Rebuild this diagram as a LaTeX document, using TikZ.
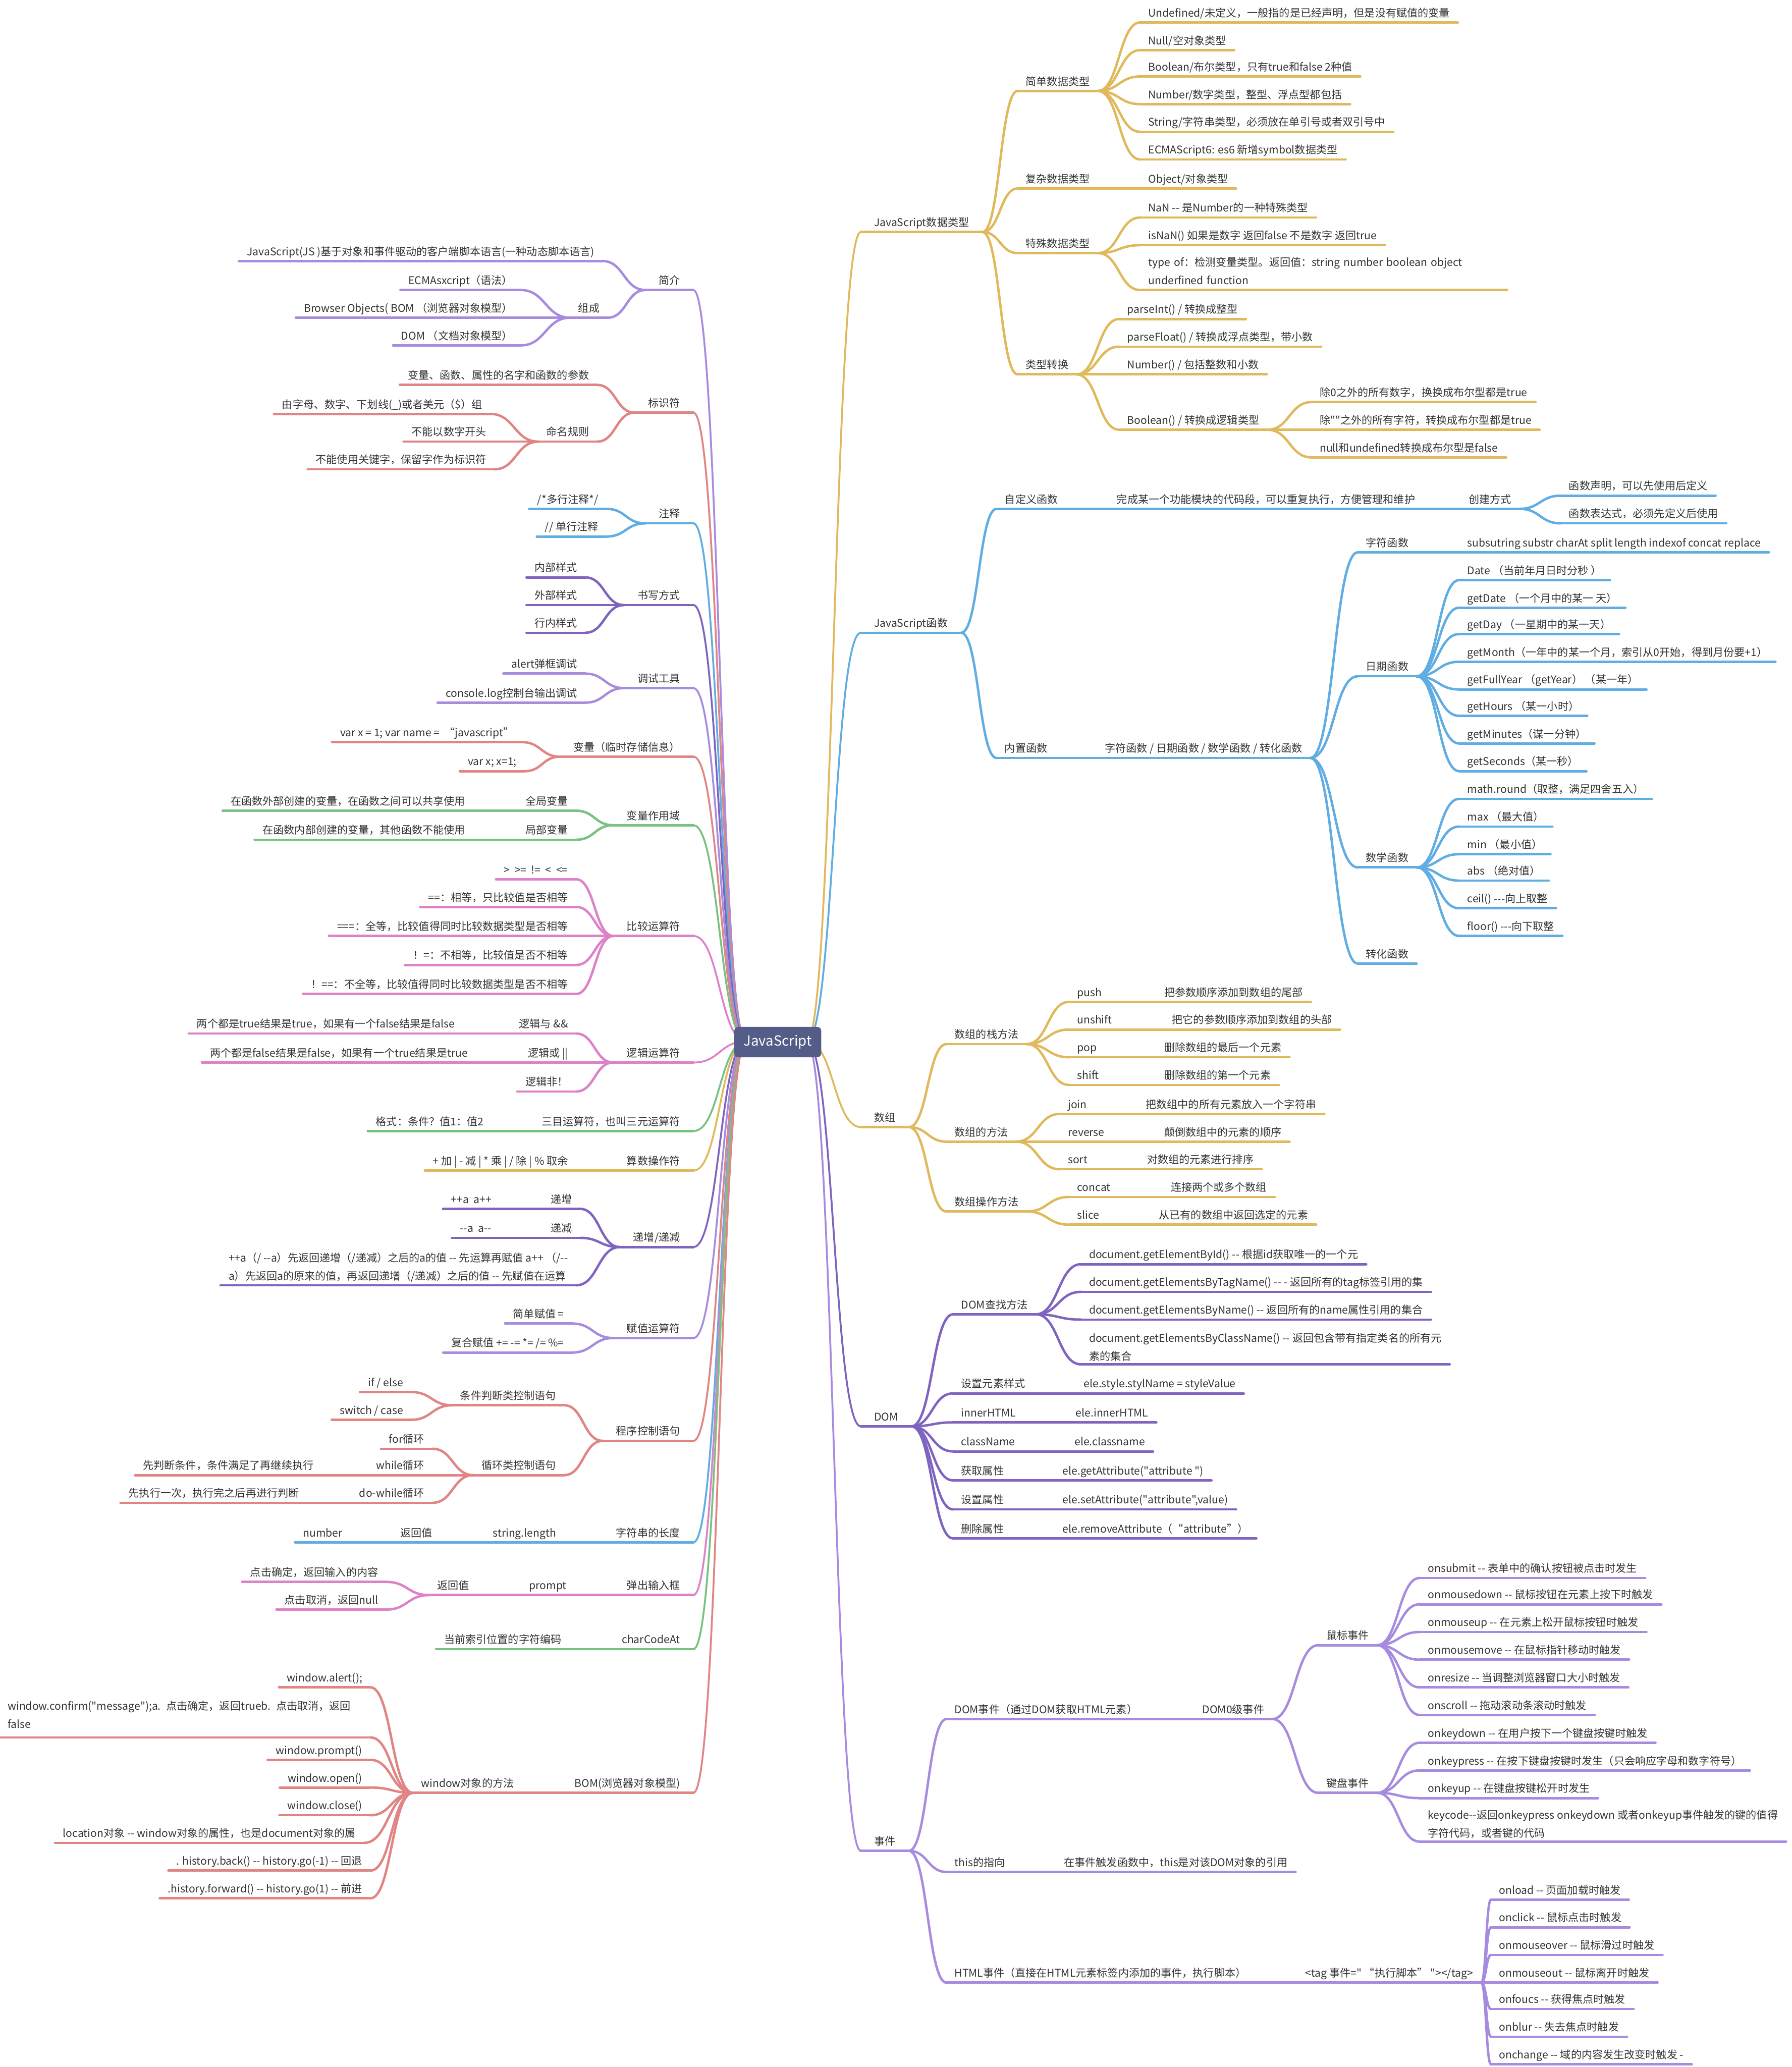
\documentclass[tikz,border=0pt]{standalone}
\usepackage{fontspec}
\setmainfont[Ligatures=TeXOff]{Noto Sans CJK SC}
\usetikzlibrary{calc}
\definecolor{yel}{HTML}{E0B95C}
\definecolor{blu}{HTML}{5FADE2}
\definecolor{dpu}{HTML}{7F64BF}
\definecolor{lpu}{HTML}{A68BDF}
\definecolor{sal}{HTML}{E08484}
\definecolor{grn}{HTML}{78C281}
\definecolor{pnk}{HTML}{DD82C8}
\definecolor{rootc}{HTML}{545D87}
\definecolor{txtc}{HTML}{333333}
\newcommand\tfs{\fontsize{11.5pt}{19.5pt}\selectfont}
\newcommand\rfs{\fontsize{15pt}{18pt}\selectfont}
\newcommand\conn[3]{\draw[#1] let \p1=#2, \p2=#3 in (\p1) .. controls ({0.5*\x1+0.5*\x2},\y1) and ({0.5*\x1+0.5*\x2},\y2) .. (\p2);}
\newcommand\conR[3]{\conn{cn=#1}{(#2.south east)}{(#3.south west)}}
\newcommand\conL[3]{\conn{cn=#1}{(#2.south west)}{(#3.south east)}}
\newcommand\rootR[2]{\conn{rcn=#1}{(rR)}{(#2.south west)}}
\newcommand\rootL[2]{\conn{rcn=#1}{(rL)}{(#2.south east)}}
\tikzset{
  tx/.style={font=\tfs, text=txtc, inner xsep=0.3cm, inner ysep=0.12cm, text height=10pt, text depth=2.5pt},
  nr/.style={tx, anchor=south west},
  nl/.style={tx, anchor=south east},
  mp/.style={inner xsep=0.5cm},
  two/.style={text height=, text depth=, align=left},
  ul/.style={append after command={(\tikzlastnode.south west) edge[draw=#1,line width=2.6pt,line cap=round] (\tikzlastnode.south east)}},
  cn/.style={draw=#1, line width=2.6pt, line cap=round},
  rcn/.style={draw=#1, line width=2pt, line cap=round},
}
\begin{document}
\begin{tikzpicture}[x=0.05cm,y=-0.05cm]
\fill[white] (0,0) rectangle (1359,1568);
\useasboundingbox (0,0) rectangle (1359,1568);
\coordinate (rL) at (566,790);
\coordinate (rR) at (612,790);

% ================= RIGHT: data types
\node[nr,mp,ul=yel] (js) at (653,176) {JavaScript数据类型};
\node[nr,ul=yel] (sj) at (772,69) {简单数据类型};
\node[nr,ul=yel] (sj1) at (865,17) {Undefined/未定义，一般指的是已经声明，但是没有赋值的变量};
\node[nr,ul=yel] (sj2) at (865,38) {Null/空对象类型};
\node[nr,ul=yel] (sj3) at (865,58) {Boolean/布尔类型，只有true和false 2种值};
\node[nr,ul=yel] (sj4) at (865,79) {Number/数字类型，整型、浮点型都包括};
\node[nr,ul=yel] (sj5) at (865,100) {String/字符串类型，必须放在单引号或者双引号中};
\node[nr,ul=yel] (sj6) at (865,121) {ECMAScript6: es6 新增symbol数据类型};
\node[nr,ul=yel] (fz) at (772,143) {复杂数据类型};
\node[nr,ul=yel] (fz1) at (865,143) {Object/对象类型};
\node[nr,ul=yel] (ts) at (772,192) {特殊数据类型};
\node[nr,ul=yel] (ts1) at (865,165) {NaN -- 是Number的一种特殊类型};
\node[nr,ul=yel] (ts2) at (865,186) {isNaN() 如果是数字 返回false 不是数字 返回true};
\node[nr,two,text width=13.3cm,inner ysep=0.2cm,ul=yel] (ts3) at (865,220) {type of：检测变量类型。返回值：string number boolean object\\underfined function};
\node[nr,ul=yel] (lx) at (772,284) {类型转换};
\node[nr,ul=yel] (lx1) at (849,242) {parseInt() / 转换成整型};
\node[nr,ul=yel] (lx2) at (849,263) {parseFloat() / 转换成浮点类型，带小数};
\node[nr,ul=yel] (lx3) at (849,284) {Number() / 包括整数和小数};
\node[nr,ul=yel] (lx4) at (849,326) {Boolean() / 转换成逻辑类型};
\node[nr,ul=yel] (lx41) at (995,305) {除0之外的所有数字，换换成布尔型都是true};
\node[nr,ul=yel] (lx42) at (995,326) {除""之外的所有字符，转换成布尔型都是true};
\node[nr,ul=yel] (lx43) at (995,347) {null和undefined转换成布尔型是false};

% ================= RIGHT: functions
\node[nr,mp,ul=blu] (fn) at (653,480) {JavaScript函数};
\node[nr,ul=blu] (zd) at (756,386) {自定义函数};
\node[nr,ul=blu] (zd1) at (841,386) {完成某一个功能模块的代码段，可以重复执行，方便管理和维护};
\node[nr,ul=blu] (zd2) at (1108,386) {创建方式};
\node[nr,ul=blu] (zd21) at (1184,376) {函数声明，可以先使用后定义};
\node[nr,ul=blu] (zd22) at (1184,397) {函数表达式，必须先定义后使用};
\node[nr,ul=blu] (nz) at (756,575) {内置函数};
\node[nr,ul=blu] (nz1) at (832,575) {字符函数 / 日期函数 / 数学函数 / 转化函数};
\node[nr,ul=blu] (zf) at (1030,419) {字符函数};
\node[nr,ul=blu] (zf1) at (1107,419) {subsutring substr charAt split length indexof concat replace};
\node[nr,ul=blu] (rq) at (1030,513) {日期函数};
\node[nr,ul=blu] (rq1) at (1107,440) {Date （当前年月日时分秒 ）};
\node[nr,ul=blu] (rq2) at (1107,461) {getDate （一个月中的某一 天）};
\node[nr,ul=blu] (rq3) at (1107,481) {getDay （一星期中的某一天）};
\node[nr,ul=blu] (rq4) at (1107,502) {getMonth（一年中的某一个月，索引从0开始，得到月份要+1）};
\node[nr,ul=blu] (rq5) at (1107,523) {getFullYear （getYear） （某一年）};
\node[nr,ul=blu] (rq6) at (1107,543) {getHours （某一小时）};
\node[nr,ul=blu] (rq7) at (1107,564) {getMinutes（谋一分钟）};
\node[nr,ul=blu] (rq8) at (1107,585) {getSeconds（某一秒）};
\node[nr,ul=blu] (sx) at (1030,658) {数学函数};
\node[nr,ul=blu] (sx1) at (1107,606) {math.round（取整，满足四舍五入）};
\node[nr,ul=blu] (sx2) at (1107,627) {max （最大值）};
\node[nr,ul=blu] (sx3) at (1107,648) {min （最小值）};
\node[nr,ul=blu] (sx4) at (1107,668) {abs （绝对值）};
\node[nr,ul=blu] (sx5) at (1107,689) {ceil() ---向上取整};
\node[nr,ul=blu] (sx6) at (1107,710) {floor() ---向下取整};
\node[nr,ul=blu] (zh) at (1030,731) {转化函数};

% ================= RIGHT: arrays
\node[nr,mp,ul=yel] (sz) at (653,855) {数组};
\node[nr,ul=yel] (sz1) at (718,792) {数组的栈方法};
\node[nr,ul=yel] (push) at (811,760) {push};
\node[nr,ul=yel] (pushd) at (877,760) {把参数顺序添加到数组的尾部};
\node[nr,ul=yel] (unsh) at (811,781) {unshift};
\node[nr,ul=yel] (unshd) at (883,781) {把它的参数顺序添加到数组的头部};
\node[nr,ul=yel] (pop) at (811,802) {pop};
\node[nr,ul=yel] (popd) at (877,802) {删除数组的最后一个元素};
\node[nr,ul=yel] (shf) at (811,823) {shift};
\node[nr,ul=yel] (shfd) at (877,823) {删除数组的第一个元素};
\node[nr,ul=yel] (sz2) at (718,866) {数组的方法};
\node[nr,ul=yel] (join) at (804,845) {join};
\node[nr,ul=yel] (joind) at (863,845) {把数组中的所有元素放入一个字符串};
\node[nr,ul=yel] (rev) at (804,866) {reverse};
\node[nr,ul=yel] (revd) at (877,866) {颠倒数组中的元素的顺序};
\node[nr,ul=yel] (sort) at (804,887) {sort};
\node[nr,ul=yel] (sortd) at (864,887) {对数组的元素进行排序};
\node[nr,ul=yel] (sz3) at (718,919) {数组操作方法};
\node[nr,ul=yel] (conc) at (811,908) {concat};
\node[nr,ul=yel] (concd) at (882,908) {连接两个或多个数组};
\node[nr,ul=yel] (slic) at (811,929) {slice};
\node[nr,ul=yel] (slicd) at (873,929) {从已有的数组中返回选定的元素};

% ================= RIGHT: DOM
\node[nr,mp,ul=dpu] (dom) at (653,1082) {DOM};
\node[nr,ul=dpu] (dc) at (723,997) {DOM查找方法};
\node[nr,ul=dpu] (dc1) at (820,959) {document.getElementById() -- 根据id获取唯一的一个元};
\node[nr,ul=dpu] (dc2) at (820,980) {document.getElementsByTagName() -- - 返回所有的tag标签引用的集};
\node[nr,ul=dpu] (dc3) at (820,1001) {document.getElementsByName() -- 返回所有的name属性引用的集合};
\node[nr,two,ul=dpu] (dc4) at (820,1035) {document.getElementsByClassName() -- 返回包含带有指定类名的所有元\\素的集合};
\node[nr,ul=dpu] (ys) at (723,1057) {设置元素样式};
\node[nr,ul=dpu] (ysd) at (816,1057) {ele.style.stylName = styleValue};
\node[nr,ul=dpu] (ih) at (723,1079) {innerHTML};
\node[nr,ul=dpu] (ihd) at (810,1079) {ele.innerHTML};
\node[nr,ul=dpu] (clsn) at (723,1101) {className};
\node[nr,ul=dpu] (clsnd) at (809,1101) {ele.classname};
\node[nr,ul=dpu] (hq) at (723,1123) {获取属性};
\node[nr,ul=dpu] (hqd) at (800,1123) {ele.getAttribute("attribute ")};
\node[nr,ul=dpu] (st) at (723,1145) {设置属性};
\node[nr,ul=dpu] (std) at (800,1145) {ele.setAttribute("attribute",value)};
\node[nr,ul=dpu] (sc) at (723,1167) {删除属性};
\node[nr,ul=dpu] (scd) at (800,1167) {ele.removeAttribute（“attribute”）};

% ================= RIGHT: events
\node[nr,mp,ul=lpu] (ev) at (653,1404) {事件};
\node[nr,ul=lpu] (ev1) at (718,1304) {DOM事件（通过DOM获取HTML元素）};
\node[nr,ul=lpu] (ev1a) at (906,1304) {DOM0级事件};
\node[nr,ul=lpu] (ms) at (1000,1248) {鼠标事件};
\node[nr,ul=lpu] (ms1) at (1077,1197) {onsubmit -- 表单中的确认按钮被点击时发生};
\node[nr,ul=lpu] (ms2) at (1077,1217) {onmousedown -- 鼠标按钮在元素上按下时触发};
\node[nr,ul=lpu] (ms3) at (1077,1238) {onmouseup -- 在元素上松开鼠标按钮时触发};
\node[nr,ul=lpu] (ms4) at (1077,1259) {onmousemove -- 在鼠标指针移动时触发};
\node[nr,ul=lpu] (ms5) at (1077,1280) {onresize -- 当调整浏览器窗口大小时触发};
\node[nr,ul=lpu] (ms6) at (1077,1301) {onscroll -- 拖动滚动条滚动时触发};
\node[nr,ul=lpu] (kb) at (1000,1360) {键盘事件};
\node[nr,ul=lpu] (kb1) at (1077,1322) {onkeydown -- 在用户按下一个键盘按键时触发};
\node[nr,ul=lpu] (kb2) at (1077,1343) {onkeypress -- 在按下键盘按键时发生（只会响应字母和数字符号）};
\node[nr,ul=lpu] (kb3) at (1077,1364) {onkeyup -- 在键盘按键松开时发生};
\node[nr,two,ul=lpu] (kb4) at (1077,1397) {keycode--返回onkeypress onkeydown 或者onkeyup事件触发的键的值得\\字符代码，或者键的代码};
\node[nr,ul=lpu] (ev2) at (718,1420) {this的指向};
\node[nr,ul=lpu] (ev2a) at (801,1420) {在事件触发函数中，this是对该DOM对象的引用};
\node[nr,ul=lpu] (ev3) at (718,1504) {HTML事件（直接在HTML元素标签内添加的事件，执行脚本）};
\node[nr,ul=lpu] (ev3a) at (984,1504) {<tag 事件=" “执行脚本” "></tag>};
\node[nr,ul=lpu] (hl1) at (1131,1441) {onload -- 页面加载时触发};
\node[nr,ul=lpu] (hl2) at (1131,1462) {onclick -- 鼠标点击时触发};
\node[nr,ul=lpu] (hl3) at (1131,1483) {onmouseover -- 鼠标滑过时触发};
\node[nr,ul=lpu] (hl4) at (1131,1504) {onmouseout -- 鼠标离开时触发};
\node[nr,ul=lpu] (hl5) at (1131,1524) {onfoucs -- 获得焦点时触发};
\node[nr,ul=lpu] (hl6) at (1131,1545) {onblur -- 失去焦点时触发};
\node[nr,ul=lpu] (hl7) at (1131,1566) {onchange -- 域的内容发生改变时触发 -};

% ================= LEFT
\node[nl,mp,ul=lpu] (jj) at (526,220) {简介};
\node[nl,ul=lpu] (jj1) at (457,198) {JavaScript(JS )基于对象和事件驱动的客户端脚本语言(一种动态脚本语言)};
\node[nl,ul=lpu] (jj2) at (461,241) {组成};
\node[nl,ul=lpu] (jj21) at (395,220) {ECMAsxcript（语法）};
\node[nl,ul=lpu] (jj22) at (395,241) {Browser Objects( BOM （浏览器对象模型）};
\node[nl,ul=lpu] (jj23) at (395,262) {DOM （文档对象模型）};

\node[nl,mp,ul=sal] (bs) at (526,313) {标识符};
\node[nl,ul=sal] (bs1) at (453,292) {变量、函数、属性的名字和函数的参数};
\node[nl,ul=sal] (bs2) at (453,335) {命名规则};
\node[nl,ul=sal] (bs21) at (372,314) {由字母、数字、下划线(\_)或者美元（\$）组};
\node[nl,ul=sal] (bs22) at (375,335) {不能以数字开头};
\node[nl,ul=sal] (bs23) at (375,356) {不能使用关键字，保留字作为标识符};

\node[nl,mp,ul=blu] (zs) at (526,397) {注释};
\node[nl,ul=blu] (zs1) at (460,386) {/*多行注释*/};
\node[nl,ul=blu] (zs2) at (460,407) {// 单行注释};

\node[nl,mp,ul=dpu] (sw) at (526,459) {书写方式};
\node[nl,ul=dpu] (sw1) at (444,438) {内部样式};
\node[nl,ul=dpu] (sw2) at (444,459) {外部样式};
\node[nl,ul=dpu] (sw3) at (444,480) {行内样式};

\node[nl,mp,ul=lpu] (dbg) at (526,522) {调试工具};
\node[nl,ul=lpu] (dbg1) at (444,511) {alert弹框调试};
\node[nl,ul=lpu] (dbg2) at (444,533) {console.log控制台输出调试};

\node[nl,mp,ul=sal] (va) at (526,574) {变量（临时存储信息）};
\node[nl,ul=sal] (va1) at (396,563) {var x = 1; var name = \ “javascript”};
\node[nl,ul=sal] (va2) at (398,585) {var x; x=1;};

\node[nl,mp,ul=grn] (scope) at (526,626) {变量作用域};
\node[nl,ul=grn] (sco1) at (437,615) {全局变量};
\node[nl,ul=grn] (sco1a) at (359,615) {在函数外部创建的变量，在函数之间可以共享使用};
\node[nl,ul=grn] (sco2) at (437,637) {局部变量};
\node[nl,ul=grn] (sco2a) at (359,637) {在函数内部创建的变量，其他函数不能使用};

\node[nl,mp,ul=pnk] (cmp) at (526,710) {比较运算符};
\node[nl,ul=pnk] (cmp1) at (437,667) {>\ \ >=\ \ !=\ \ <\ \ <=};
\node[nl,ul=pnk] (cmp2) at (437,688) {==：相等，只比较值是否相等};
\node[nl,ul=pnk] (cmp3) at (437,710) {===：全等，比较值得同时比较数据类型是否相等};
\node[nl,ul=pnk] (cmp4) at (437,732) {！=：不相等，比较值是否不相等};
\node[nl,ul=pnk] (cmp5) at (437,754) {！==：不全等，比较值得同时比较数据类型是否不相等};

\node[nl,mp,ul=pnk] (lg) at (526,806) {逻辑运算符};
\node[nl,ul=pnk] (lg1) at (437,784) {逻辑与 \&\&};
\node[nl,ul=pnk] (lg1a) at (351,784) {两个都是true结果是true，如果有一个false结果是false};
\node[nl,ul=pnk] (lg2) at (437,806) {逻辑或 ||};
\node[nl,ul=pnk] (lg2a) at (361,806) {两个都是false结果是false，如果有一个true结果是true};
\node[nl,ul=pnk] (lg3) at (437,828) {逻辑非！};

\node[nl,mp,ul=grn] (tern) at (526,858) {三目运算符，也叫三元运算符};
\node[nl,ul=grn] (terna) at (373,858) {格式：条件？值1：值2};

\node[nl,mp,ul=yel] (ar) at (526,888) {算数操作符};
\node[nl,ul=yel] (ara) at (437,888) {+ 加 | - 减 | * 乘 | / 除 | \% 取余};

\node[nl,mp,ul=dpu] (inc) at (526,946) {递增/递减};
\node[nl,ul=dpu] (inc1) at (440,917) {递增};
\node[nl,ul=dpu] (inc1a) at (379,917) {++a\ \ a++};
\node[nl,ul=dpu] (inc2) at (440,939) {递减};
\node[nl,ul=dpu] (inc2a) at (379,939) {--a\ \ a--};
\node[nl,two,ul=dpu] (inc3) at (437,975) {++a（/ --a）先返回递增（/递减）之后的a的值 -- 先运算再赋值 a++ （/--\\a）先返回a的原来的值，再返回递增（/递减）之后的值 -- 先赋值在运算};

\node[nl,mp,ul=lpu] (asg) at (526,1015) {赋值运算符};
\node[nl,ul=lpu] (asg1) at (434,1004) {简单赋值 =};
\node[nl,ul=lpu] (asg2) at (434,1026) {复合赋值 += -= *= /= \%=};

\node[nl,mp,ul=sal] (ctl) at (526,1093) {程序控制语句};
\node[nl,ul=sal] (ctl1) at (428,1066) {条件判断类控制语句};
\node[nl,ul=sal] (ctl11) at (312,1056) {if / else};
\node[nl,ul=sal] (ctl12) at (312,1077) {switch / case};
\node[nl,ul=sal] (ctl2) at (428,1119) {循环类控制语句};
\node[nl,ul=sal] (ctl21) at (328,1099) {for循环};
\node[nl,ul=sal] (ctl22) at (328,1119) {while循环};
\node[nl,ul=sal] (ctl22a) at (244,1119) {先判断条件，条件满足了再继续执行};
\node[nl,ul=sal] (ctl23) at (328,1140) {do-while循环};
\node[nl,ul=sal] (ctl23a) at (233,1140) {先执行一次，执行完之后再进行判断};

\node[nl,mp,ul=blu] (len) at (526,1170) {字符串的长度};
\node[nl,ul=blu] (len1) at (428,1170) {string.length};
\node[nl,ul=blu] (len2) at (334,1170) {返回值};
\node[nl,ul=blu] (len3) at (266,1170) {number};

\node[nl,mp,ul=pnk] (pr) at (526,1210) {弹出输入框};
\node[nl,ul=pnk] (pr1) at (436,1210) {prompt};
\node[nl,ul=pnk] (pr2) at (362,1210) {返回值};
\node[nl,ul=pnk] (pr21) at (293,1200) {点击确定，返回输入的内容};
\node[nl,ul=pnk] (pr22) at (293,1221) {点击取消，返回null};

\node[nl,mp,ul=grn] (cc) at (526,1251) {charCodeAt};
\node[nl,ul=grn] (cca) at (432,1251) {当前索引位置的字符编码};

\node[nl,mp,ul=sal] (bom) at (526,1360) {BOM(浏览器对象模型)};
\node[nl,ul=sal] (bomw) at (396,1360) {window对象的方法};
\node[nl,ul=sal] (w1) at (281,1280) {window.alert();};
\node[nl,two,text width=13.45cm,inner ysep=0.35cm,ul=sal] (w2) at (281,1318) {window.confirm("message");a. 点击确定，返回trueb. 点击取消，返回\\false};
\node[nl,ul=sal] (w3) at (281,1335) {window.prompt()};
\node[nl,ul=sal] (w4) at (281,1356) {window.open()};
\node[nl,ul=sal] (w5) at (281,1377) {window.close()};
\node[nl,ul=sal] (w6) at (276,1398) {location对象 -- window对象的属性，也是document对象的属};
\node[nl,ul=sal] (w7) at (281,1419) {. history.back() -- history.go(-1) -- 回退};
\node[nl,ul=sal] (w8) at (281,1440) {.history.forward() -- history.go(1) -- 前进};

% ================= CONNECTORS right
\rootR{yel}{js}
\conR{yel}{js}{sj}\conR{yel}{js}{fz}\conR{yel}{js}{ts}\conR{yel}{js}{lx}
\foreach \q in {sj1,sj2,sj3,sj4,sj5,sj6}{\conR{yel}{sj}{\q}}
\conR{yel}{fz}{fz1}
\foreach \q in {ts1,ts2,ts3}{\conR{yel}{ts}{\q}}
\foreach \q in {lx1,lx2,lx3,lx4}{\conR{yel}{lx}{\q}}
\foreach \q in {lx41,lx42,lx43}{\conR{yel}{lx4}{\q}}

\rootR{blu}{fn}
\conR{blu}{fn}{zd}\conR{blu}{fn}{nz}
\conR{blu}{zd}{zd1}\conR{blu}{zd1}{zd2}\conR{blu}{zd2}{zd21}\conR{blu}{zd2}{zd22}
\conR{blu}{nz}{nz1}
\foreach \q in {zf,rq,sx,zh}{\conR{blu}{nz1}{\q}}
\conR{blu}{zf}{zf1}
\foreach \q in {rq1,rq2,rq3,rq4,rq5,rq6,rq7,rq8}{\conR{blu}{rq}{\q}}
\foreach \q in {sx1,sx2,sx3,sx4,sx5,sx6}{\conR{blu}{sx}{\q}}

\rootR{yel}{sz}
\foreach \q in {sz1,sz2,sz3}{\conR{yel}{sz}{\q}}
\foreach \q in {push,unsh,pop,shf}{\conR{yel}{sz1}{\q}\conR{yel}{\q}{\q d}}
\foreach \q in {join,rev,sort}{\conR{yel}{sz2}{\q}\conR{yel}{\q}{\q d}}
\foreach \q in {conc,slic}{\conR{yel}{sz3}{\q}\conR{yel}{\q}{\q d}}

\rootR{dpu}{dom}
\foreach \q in {dc,ys,ih,clsn,hq,st,sc}{\conR{dpu}{dom}{\q}}
\foreach \q in {dc1,dc2,dc3,dc4}{\conR{dpu}{dc}{\q}}
\foreach \q in {ys,ih,clsn,hq,st,sc}{\conR{dpu}{\q}{\q d}}

\rootR{lpu}{ev}
\foreach \q in {ev1,ev2,ev3}{\conR{lpu}{ev}{\q}}
\conR{lpu}{ev1}{ev1a}\conR{lpu}{ev2}{ev2a}\conR{lpu}{ev3}{ev3a}
\conR{lpu}{ev1a}{ms}\conR{lpu}{ev1a}{kb}
\foreach \q in {ms1,ms2,ms3,ms4,ms5,ms6}{\conR{lpu}{ms}{\q}}
\foreach \q in {kb1,kb2,kb3,kb4}{\conR{lpu}{kb}{\q}}
\foreach \q in {hl1,hl2,hl3,hl4,hl5,hl6,hl7}{\conR{lpu}{ev3a}{\q}}

% ================= CONNECTORS left
\rootL{lpu}{jj}
\conL{lpu}{jj}{jj1}\conL{lpu}{jj}{jj2}
\foreach \q in {jj21,jj22,jj23}{\conL{lpu}{jj2}{\q}}
\rootL{sal}{bs}
\conL{sal}{bs}{bs1}\conL{sal}{bs}{bs2}
\foreach \q in {bs21,bs22,bs23}{\conL{sal}{bs2}{\q}}
\rootL{blu}{zs}
\conL{blu}{zs}{zs1}\conL{blu}{zs}{zs2}
\rootL{dpu}{sw}
\foreach \q in {sw1,sw2,sw3}{\conL{dpu}{sw}{\q}}
\rootL{lpu}{dbg}
\conL{lpu}{dbg}{dbg1}\conL{lpu}{dbg}{dbg2}
\rootL{sal}{va}
\conL{sal}{va}{va1}\conL{sal}{va}{va2}
\rootL{grn}{scope}
\conL{grn}{scope}{sco1}\conL{grn}{scope}{sco2}\conL{grn}{sco1}{sco1a}\conL{grn}{sco2}{sco2a}
\rootL{pnk}{cmp}
\foreach \q in {cmp1,cmp2,cmp3,cmp4,cmp5}{\conL{pnk}{cmp}{\q}}
\rootL{pnk}{lg}
\foreach \q in {lg1,lg2,lg3}{\conL{pnk}{lg}{\q}}
\conL{pnk}{lg1}{lg1a}\conL{pnk}{lg2}{lg2a}
\rootL{grn}{tern}
\conL{grn}{tern}{terna}
\rootL{yel}{ar}
\conL{yel}{ar}{ara}
\rootL{dpu}{inc}
\foreach \q in {inc1,inc2,inc3}{\conL{dpu}{inc}{\q}}
\conL{dpu}{inc1}{inc1a}\conL{dpu}{inc2}{inc2a}
\rootL{lpu}{asg}
\conL{lpu}{asg}{asg1}\conL{lpu}{asg}{asg2}
\rootL{sal}{ctl}
\conL{sal}{ctl}{ctl1}\conL{sal}{ctl}{ctl2}
\conL{sal}{ctl1}{ctl11}\conL{sal}{ctl1}{ctl12}
\foreach \q in {ctl21,ctl22,ctl23}{\conL{sal}{ctl2}{\q}}
\conL{sal}{ctl22}{ctl22a}\conL{sal}{ctl23}{ctl23a}
\rootL{blu}{len}
\conL{blu}{len}{len1}\conL{blu}{len1}{len2}\conL{blu}{len2}{len3}
\rootL{pnk}{pr}
\conL{pnk}{pr}{pr1}\conL{pnk}{pr1}{pr2}\conL{pnk}{pr2}{pr21}\conL{pnk}{pr2}{pr22}
\rootL{grn}{cc}
\conL{grn}{cc}{cca}
\rootL{sal}{bom}
\conL{sal}{bom}{bomw}
\foreach \q in {w1,w2,w3,w4,w5,w6,w7,w8}{\conL{sal}{bomw}{\q}}

% ================= ROOT
\node[fill=rootc, rounded corners=0.15cm, text=white, font=\rfs, minimum width=3.3cm, minimum height=1.15cm, inner sep=0pt] (root) at (590,790.5) {JavaScript};
\end{tikzpicture}
\end{document}
